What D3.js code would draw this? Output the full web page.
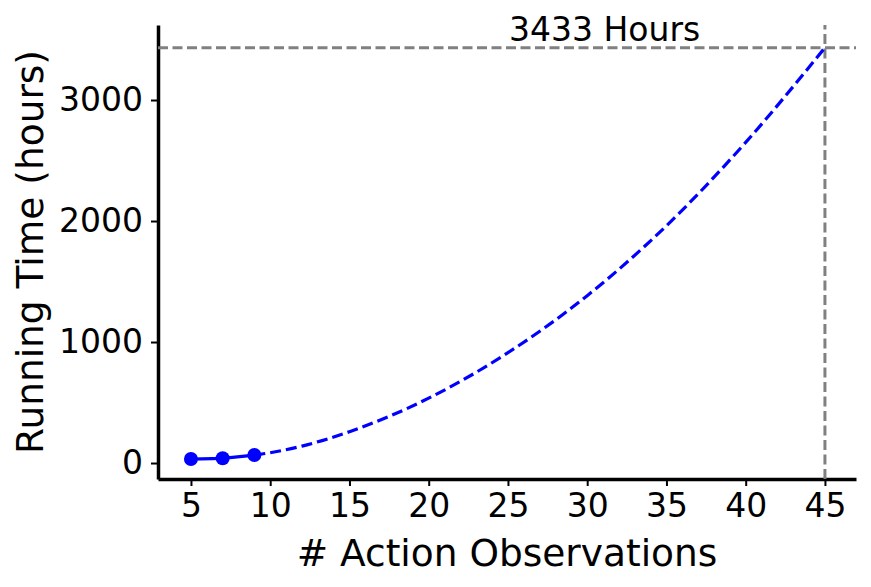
<!DOCTYPE html>
<html>
<head>
<meta charset="utf-8">
<script src="https://cdn.jsdelivr.net/npm/d3@7"></script>
<style>
body { margin: 0; background: #fff; }
text { font-family: "DejaVu Sans", sans-serif; }
</style>
</head>
<body>
<div class="svg"></div>
<script>
// measured runs (solid) and projected curve (dashed)
var measuredX = [5, 7, 9];
var measuredHours = [33, 39, 66];
var projectedX = [9, 10, 12, 15, 20, 25, 30, 35, 40, 45];
var projectedHours = [66, 85, 140, 259, 536, 912, 1383, 1961, 2650, 3433];
var xTicks = [5, 10, 15, 20, 25, 30, 35, 40, 45];
var yTicks = [0, 1000, 2000, 3000];
var targetX = 45;
var targetHours = 3433;
var annotation = "3433 Hours";

var width = 871, height = 587;
var margin = {top: 25, right: 15, bottom: 108, left: 158};

var svg = d3.select("div.svg")
	.append("svg")
	.attr("width", width)
	.attr("height", height);

var x = d3.scaleLinear()
	.domain([2.92, 46.96])
	.range([margin.left, width - margin.right]);

var y = d3.scaleLinear()
	.domain([-132, 3620])
	.range([height - margin.bottom, margin.top]);

var xAxis = d3.axisBottom(x)
	.tickValues(xTicks)
	.tickFormat(d3.format("d"))
	.tickSize(7)
	.tickSizeOuter(0)
	.tickPadding(8);

var yAxis = d3.axisLeft(y)
	.tickValues(yTicks)
	.tickFormat(d3.format("d"))
	.tickSize(7)
	.tickSizeOuter(0)
	.tickPadding(8);

var gx = svg.append("g")
	.attr("transform", `translate(0,${height - margin.bottom})`)
	.call(xAxis);

var gy = svg.append("g")
	.attr("transform", `translate(${margin.left},0)`)
	.call(yAxis);

[gx, gy].forEach(function(g){
	g.select(".domain").attr("stroke", "#000").attr("stroke-width", 3.5);
	g.selectAll(".tick line").attr("stroke", "#000").attr("stroke-width", 2);
	g.selectAll(".tick text")
		.attr("fill", "#000")
		.style("font-size", "33px")
		.style("font-family", "DejaVu Sans");
});

// reference lines
svg.append("line")
	.attr("x1", x.range()[0]).attr("x2", x.range()[1])
	.attr("y1", y(targetHours)).attr("y2", y(targetHours))
	.attr("stroke", "gray").attr("stroke-width", 3)
	.attr("stroke-dasharray", "10,4.5");

svg.append("line")
	.attr("x1", x(targetX)).attr("x2", x(targetX))
	.attr("y1", y.range()[0]).attr("y2", y.range()[1])
	.attr("stroke", "gray").attr("stroke-width", 3)
	.attr("stroke-dasharray", "10,4.5");

var projected = projectedX.map(function(d, i){ return {x: d, h: projectedHours[i]}; });
var measured = measuredX.map(function(d, i){ return {x: d, h: measuredHours[i]}; });

var line = d3.line()
	.x(d => x(d.x))
	.y(d => y(d.h));

svg.append("path")
	.datum(projected)
	.attr("fill", "none")
	.attr("stroke", "blue")
	.attr("stroke-width", 3.2)
	.attr("stroke-dasharray", "11,5")
	.attr("d", line.curve(d3.curveMonotoneX));

svg.append("path")
	.datum(measured)
	.attr("fill", "none")
	.attr("stroke", "blue")
	.attr("stroke-width", 3.2)
	.attr("d", d3.line().x(d => x(d.x)).y(d => y(d.h)));

svg.selectAll("circle.pt")
	.data(measured)
	.enter().append("circle")
	.attr("class", "pt")
	.attr("cx", d => x(d.x))
	.attr("cy", d => y(d.h))
	.attr("r", 7)
	.attr("fill", "blue");

svg.append("text")
	.attr("x", x(31.1))
	.attr("y", y(3490))
	.attr("text-anchor", "middle")
	.style("font-size", "33px")
	.text(annotation);

svg.append("text")
	.attr("x", (x.range()[0] + x.range()[1]) / 2)
	.attr("y", 566)
	.attr("text-anchor", "middle")
	.style("font-size", "37.5px")
	.text("# Action Observations");

svg.append("text")
	.attr("transform", `translate(43,${(y.range()[0] + y.range()[1]) / 2}) rotate(-90)`)
	.attr("text-anchor", "middle")
	.style("font-size", "37.5px")
	.text("Running Time (hours)");
</script>
</body>
</html>
